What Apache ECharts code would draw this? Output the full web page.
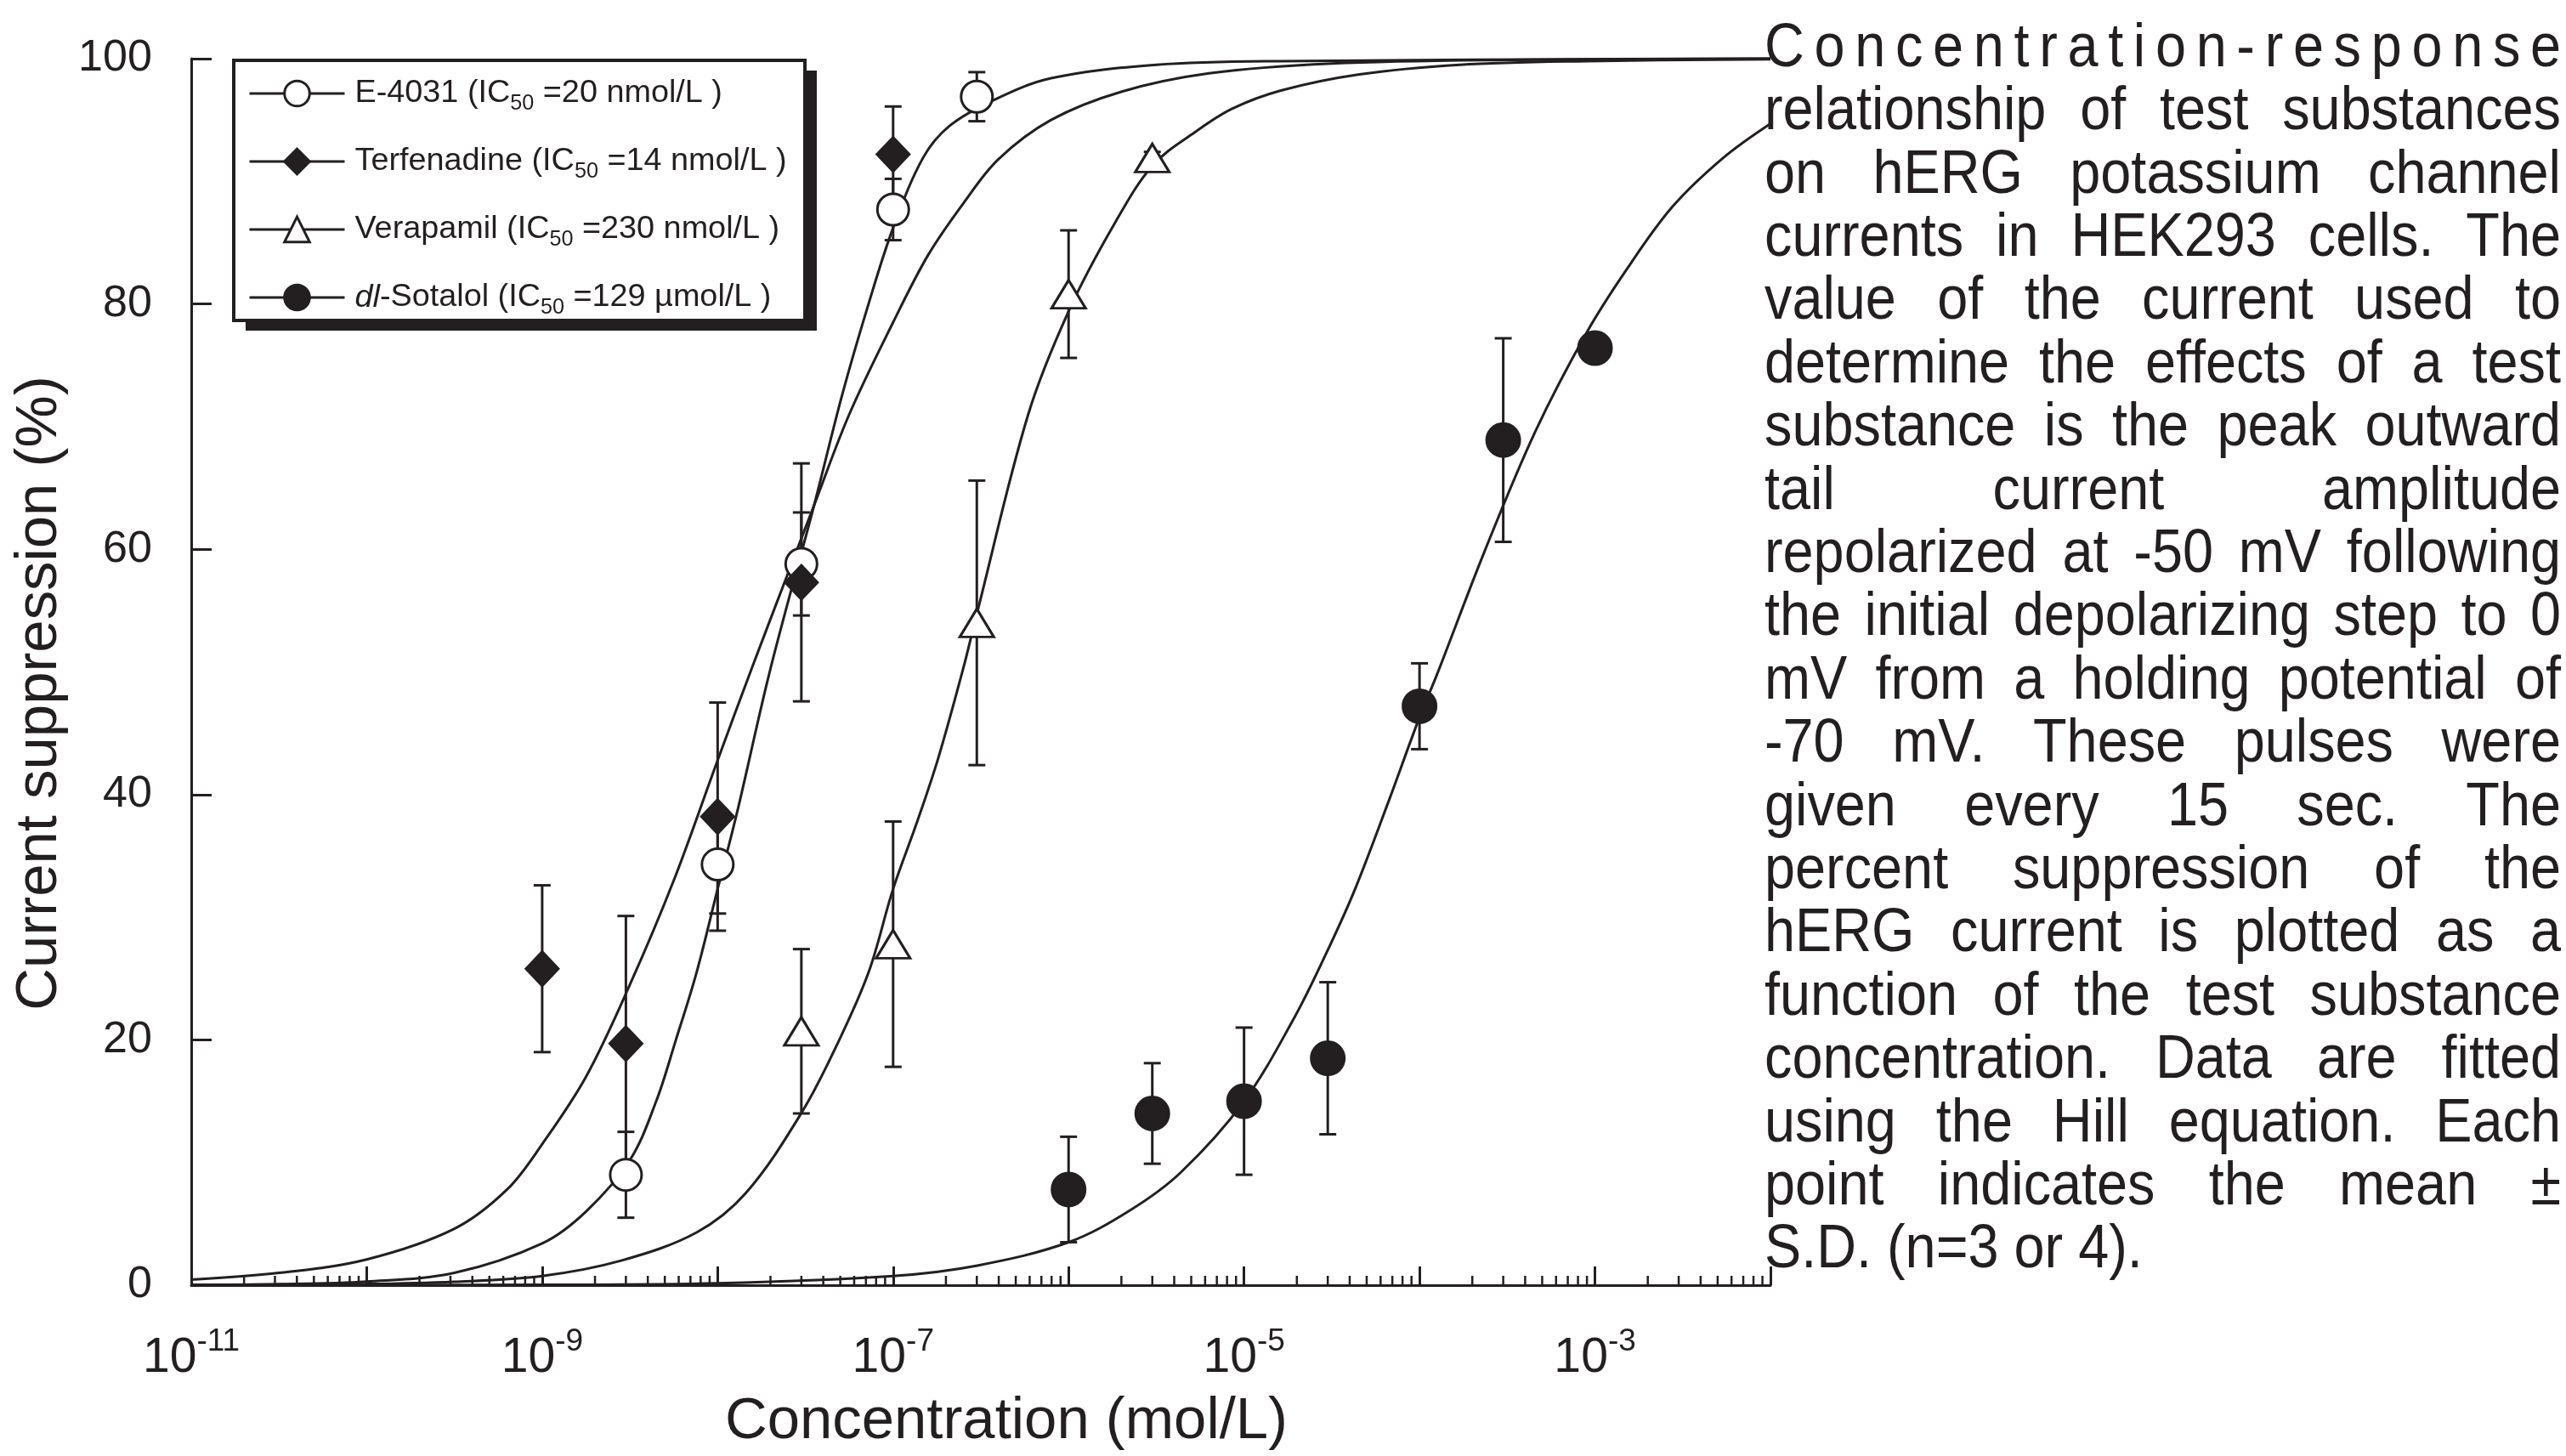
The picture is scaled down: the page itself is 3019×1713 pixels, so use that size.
<!DOCTYPE html>
<html>
<head>
<meta charset="utf-8">
<script src="https://cdn.jsdelivr.net/npm/echarts@6/dist/echarts.min.js"></script>
<style>
  html, body { margin: 0; padding: 0; background: #fff; }
  #chart { width: 3019px; height: 1713px; }
</style>
</head>
<body>
<div id="chart"></div>
<script>
// measured points (concentration mol/L, mean %, SD %)
const e4031Conc = [3e-9, 1e-8, 3e-8, 1e-7, 3e-7];
const e4031Mean = [9.0, 34.3, 58.8, 87.7, 96.9];
const e4031Sd   = [3.5, 4.0, 4.2, 2.5, 2.0];

const terfConc = [1e-9, 3e-9, 1e-8, 3e-8, 1e-7];
const terfMean = [25.8, 19.7, 38.2, 57.3, 92.2];
const terfSd   = [6.8, 10.4, 9.3, 9.7, 3.9];

const veraConc = [3e-8, 1e-7, 3e-7, 1e-6, 3e-6];
const veraMean = [20.7, 27.8, 54.0, 80.8, 91.9];
const veraSd   = [6.7, 10.0, 11.6, 5.2, 0.5];

const sotaConc = [1e-6, 3e-6, 1e-5, 3e-5, 1e-4, 3e-4, 1e-3];
const sotaMean = [7.8, 14.0, 15.0, 18.5, 47.2, 68.9, 76.4];
const sotaSd   = [4.3, 4.1, 6.0, 6.2, 3.5, 8.3, 0.5];

// fitted curves (log10 concentration, %)
const e4031FitExp = [-11, -10.5, -10, -9.5, -9, -8.75, -8.5, -8.35, -8.24, -8.12, -8, -7.89, -7.7, -7.45, -7.29, -7.14, -7, -6.83, -6.68, -6.43, -6.1, -5.5, -4.8, -2];
const e4031FitVal = [0.02, 0.08, 0.3, 1.0, 3.4, 6.0, 10.2, 15.0, 19.9, 25.5, 32.3, 38.5, 50.2, 63.6, 72.6, 80.0, 86.2, 91.9, 94.5, 96.6, 98.4, 99.5, 99.8, 100];

const terfFitExp = [-11, -10.5, -10, -9.5, -9.2, -9, -8.75, -8.5, -8.25, -8, -7.8, -7.6, -7.45, -7.25, -7, -6.8, -6.6, -6.4, -6.1, -5.7, -5.2, -4.5, -3.5, -2];
const terfFitVal = [0.45, 1.0, 2.1, 4.6, 7.8, 11.5, 17.0, 24.5, 33.0, 42.8, 50.5, 58.0, 63.6, 71.0, 78.5, 84.0, 88.2, 91.8, 95.0, 97.3, 98.8, 99.6, 99.9, 100];

const veraFitExp = [-11, -10, -9.5, -9, -8.55, -8.12, -7.84, -7.52, -7.32, -7.14, -7, -6.86, -6.74, -6.6, -6.52, -6.23, -6, -5.74, -5.52, -5.28, -5.07, -4.79, -4.35, -3.77, -3.05, -2];
const veraFitVal = [0.01, 0.1, 0.28, 0.75, 2.0, 4.3, 7.5, 14.1, 19.6, 25.5, 32.3, 37.9, 43.1, 50.3, 54.9, 71.0, 79.4, 86.5, 91.3, 94.0, 95.9, 97.4, 98.7, 99.5, 99.8, 99.95];

const sotaFitExp = [-11, -10, -9, -8, -7, -6.52, -6, -5.65, -5.36, -5, -4.71, -4.53, -4.37, -4.18, -4, -3.9, -3.63, -3.34, -3.05, -2.82, -2.56, -2.27, -2];
const sotaFitVal = [0.0, 0.01, 0.03, 0.16, 0.75, 1.6, 3.5, 6.1, 9.2, 15.0, 21.9, 27.1, 32.2, 39.3, 46.3, 49.8, 59.8, 69.6, 77.6, 82.8, 87.9, 91.9, 94.7];

const minorTickSteps = [2, 3, 4, 5, 6, 7, 8, 9];
const decadeExps = [-11, -10, -9, -8, -7, -6, -5, -4, -3];

const captionLines = [
  'Concentration-response',
  'relationship of test substances',
  'on hERG potassium channel',
  'currents in HEK293 cells. The',
  'value of the current used to',
  'determine the effects of a test',
  'substance is the peak outward',
  'tail current amplitude',
  'repolarized at -50 mV following',
  'the initial depolarizing step to 0',
  'mV from a holding potential of',
  '-70 mV. These pulses were',
  'given every 15 sec. The',
  'percent suppression of the',
  'hERG current is plotted as a',
  'function of the test substance',
  'concentration. Data are fitted',
  'using the Hill equation. Each',
  'point indicates the mean \u00b1',
  'S.D. (n=3 or 4).'
];

const INK = '#231f20';

// is a narrow face installed?
function hasFont(name) {
  const c = document.createElement('canvas').getContext('2d');
  const probe = 'abcdefghijklmnopqrstuvwxyz0123456789';
  c.font = '60px monospace';
  const w0 = c.measureText(probe).width;
  c.font = '60px "' + name + '", monospace';
  return c.measureText(probe).width !== w0;
}
const narrow = hasFont('Liberation Sans Narrow');
const FONT = narrow ? "'Liberation Sans Narrow', 'Liberation Sans', Arial, sans-serif"
                    : "'Liberation Sans', Arial, sans-serif";
const K = narrow ? 1 : 0.84;
const CAP_FONT = "'Liberation Sans', Arial, sans-serif";

const toXY = (exps, vals) => exps.map((e, i) => [Math.pow(10, e), vals[i]]);
const toPts = (conc, mean) => conc.map((c, i) => [c, mean[i]]);
const toBars = (conc, mean, sd) => conc.map((c, i) => [c, mean[i] - sd[i], mean[i] + sd[i]]);

const openStyle = { color: '#fff', borderColor: INK, borderWidth: 3, opacity: 1 };
const fillStyle = { color: INK, borderColor: INK, borderWidth: 3, opacity: 1 };

const subst = [
  { name: 'E-4031', symbol: 'circle', size: 37, style: openStyle,
    fit: toXY(e4031FitExp, e4031FitVal), pts: toPts(e4031Conc, e4031Mean), bars: toBars(e4031Conc, e4031Mean, e4031Sd),
    label: '{t|E-4031 (IC}{s|50}{t| =20 nmol/L )}' },
  { name: 'Terfenadine', symbol: 'diamond', size: [38, 40], style: fillStyle,
    fit: toXY(terfFitExp, terfFitVal), pts: toPts(terfConc, terfMean), bars: toBars(terfConc, terfMean, terfSd),
    label: '{t|Terfenadine (IC}{s|50}{t| =14 nmol/L )}' },
  { name: 'Verapamil', symbol: 'triangle', size: [40, 33], style: openStyle,
    fit: toXY(veraFitExp, veraFitVal), pts: toPts(veraConc, veraMean), bars: toBars(veraConc, veraMean, veraSd),
    label: '{t|Verapamil (IC}{s|50}{t| =230 nmol/L )}' },
  { name: 'dl-Sotalol', symbol: 'circle', size: 39, style: fillStyle,
    fit: toXY(sotaFitExp, sotaFitVal), pts: toPts(sotaConc, sotaMean), bars: toBars(sotaConc, sotaMean, sotaSd),
    label: '{i|dl}{t|-Sotalol (IC}{s|50}{t| =129 \u00b5mol/L )}' }
];

const minorTicks = [];
decadeExps.forEach(d => minorTickSteps.forEach(k => minorTicks.push([k * Math.pow(10, d), 0])));

const series = [];
// fitted curves first so the legend takes its icons from them
subst.forEach(s => series.push({
  name: s.name, type: 'line', data: s.fit, smooth: 0.35,
  showSymbol: false, symbol: s.symbol, symbolSize: s.size, itemStyle: s.style,
  lineStyle: { color: INK, width: 3 }, clip: false, silent: true, z: 2
}));
// error bars
series.push({
  name: 'sd', type: 'custom', silent: true, z: 3,
  data: [].concat(...subst.map(s => s.bars)),
  encode: { x: 0, y: [1, 2] },
  renderItem: (params, api) => {
    const lo = api.coord([api.value(0), api.value(1)]);
    const hi = api.coord([api.value(0), api.value(2)]);
    const st = { stroke: INK, lineWidth: 3 };
    const hw = 10;
    return { type: 'group', children: [
      { type: 'line', shape: { x1: lo[0], y1: lo[1], x2: hi[0], y2: hi[1] }, style: st },
      { type: 'line', shape: { x1: lo[0] - hw, y1: lo[1], x2: lo[0] + hw, y2: lo[1] }, style: st },
      { type: 'line', shape: { x1: hi[0] - hw, y1: hi[1], x2: hi[0] + hw, y2: hi[1] }, style: st }
    ]};
  }
});
// log minor ticks on the x axis
series.push({
  name: 'minor', type: 'custom', silent: true, z: 3, data: minorTicks,
  renderItem: (params, api) => {
    const p = api.coord([api.value(0), 0]);
    return { type: 'line', shape: { x1: p[0], y1: p[1], x2: p[0], y2: p[1] - 11 },
             style: { stroke: INK, lineWidth: 2.5 } };
  }
});
// data points
subst.forEach(s => series.push({
  name: s.name, type: 'scatter', data: s.pts, symbol: s.symbol, symbolSize: s.size,
  itemStyle: s.style, silent: true, z: 4
}));

// justified caption on the right, built as text pieces
function buildCaption() {
  const fs = 72, scaleX = 0.9;
  const left = 2076, width = 937, top = 58, step = 74.4;
  const ctx = document.createElement('canvas').getContext('2d');
  ctx.font = fs + 'px ' + CAP_FONT;
  const els = [];
  const piece = (text, x, y) => ({
    type: 'text', x: x, y: y, scaleX: scaleX, silent: true,
    style: { text: text, fontSize: fs, fontFamily: CAP_FONT, fill: INK, align: 'left', verticalAlign: 'middle' }
  });
  captionLines.forEach((line, i) => {
    const y = top + i * step;
    if (i === captionLines.length - 1) { els.push(piece(line, left, y)); return; }
    let parts = line.split(' ');
    if (parts.length === 1) parts = line.split('');
    const w = parts.map(p => ctx.measureText(p).width * scaleX);
    const gap = (width - w.reduce((a, b) => a + b, 0)) / (parts.length - 1);
    let x = left;
    parts.forEach((p, j) => { els.push(piece(p, x, y)); x += w[j] + gap; });
  });
  return els;
}

// legend frame with its solid drop shadow
const legendFrame = [
  { type: 'rect', z: 0, silent: true, shape: { x: 289, y: 83, width: 672, height: 306 }, style: { fill: INK } },
  { type: 'rect', z: 1, silent: true, shape: { x: 275, y: 71, width: 672, height: 306 },
    style: { fill: '#fff', stroke: INK, lineWidth: 4 } }
];

const option = {
  animation: false,
  backgroundColor: '#fff',
  textStyle: { fontFamily: FONT, color: INK },
  grid: { left: 225, top: 69, width: 1858, height: 1448 },
  legend: {
    left: 292, top: 91, orient: 'vertical', selectedMode: false, z: 10,
    padding: 0, itemGap: 36, itemWidth: 112, itemHeight: 37,
    data: subst.map(s => ({ name: s.name, itemStyle: s.style, lineStyle: { color: INK, width: 3 } })),
    formatter: name => subst.find(s => s.name === name).label,
    textStyle: {
      color: INK, padding: [0, 0, 0, 7],
      rich: {
        t: { fontSize: 45 * K, lineHeight: 50, fontFamily: FONT, color: INK },
        i: { fontSize: 45 * K, lineHeight: 50, fontFamily: FONT, fontStyle: 'italic', color: INK },
        s: { fontSize: 30 * K, lineHeight: 30, fontFamily: FONT, verticalAlign: 'bottom', color: INK }
      }
    }
  },
  xAxis: {
    type: 'log', logBase: 10, min: 1e-11, max: 1e-2, interval: 1, splitNumber: 9,
    name: 'Concentration (mol/L)', nameLocation: 'middle', nameGap: 127,
    nameTextStyle: { fontSize: 82 * K, fontFamily: FONT, color: INK, padding: [0, 0, 0, 60] },
    axisLine: { show: true, lineStyle: { color: INK, width: 3 } },
    axisTick: { show: true, inside: true, length: 22, lineStyle: { color: INK, width: 3 } },
    splitLine: { show: false },
    axisLabel: {
      margin: 48, color: INK,
      formatter: v => {
        const e = Math.round(Math.log10(v));
        return e % 2 ? '{b|10}{s|' + e + '}' : '';
      },
      rich: {
        b: { fontSize: 68 * K, lineHeight: 76, fontFamily: FONT, color: INK },
        s: { fontSize: 44 * K, lineHeight: 44, fontFamily: FONT, verticalAlign: 'top', color: INK }
      }
    }
  },
  yAxis: {
    type: 'value', min: 0, max: 100, interval: 20,
    name: 'Current suppression (%)', nameLocation: 'middle', nameGap: 98,
    nameTextStyle: { fontSize: 82 * K, fontFamily: FONT, color: INK, padding: [0, 50, 0, 0] },
    axisLine: { show: true, lineStyle: { color: INK, width: 3 } },
    axisTick: { show: true, inside: true, length: 24, lineStyle: { color: INK, width: 3 } },
    splitLine: { show: false },
    axisLabel: { margin: 46, fontSize: 62 * K, fontFamily: FONT, color: INK }
  },
  graphic: legendFrame.concat(buildCaption()),
  series: series
};

const chart = echarts.init(document.getElementById('chart'));
chart.setOption(option);
</script>
</body>
</html>
